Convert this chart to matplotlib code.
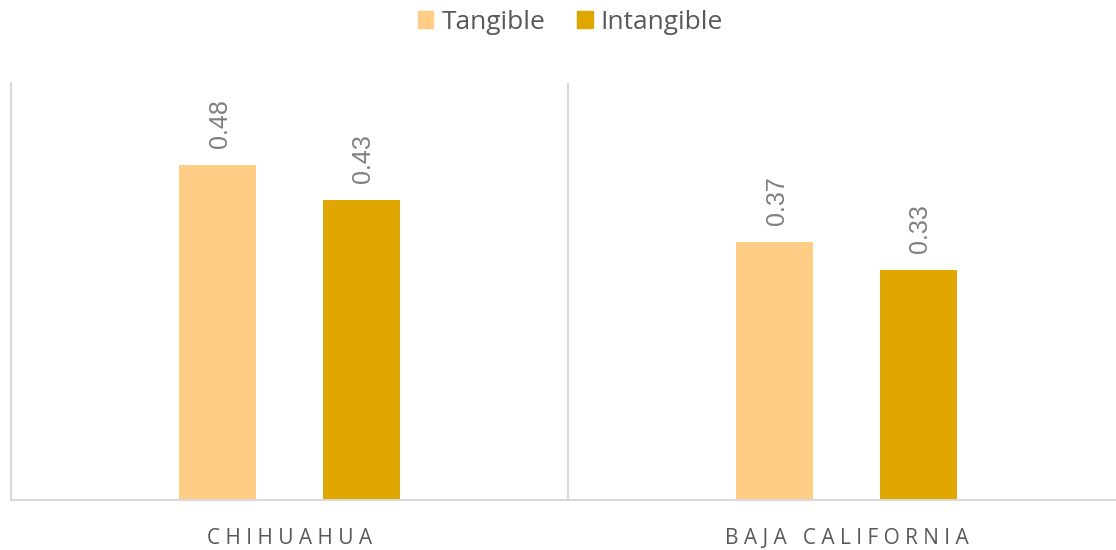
import numpy as np
import matplotlib.pyplot as plt
from matplotlib.patches import Patch

states = ['C H I H U A H U A', 'B A J A   C A L I F O R N I A']
tangible = [0.48, 0.37]
intangible = [0.43, 0.33]

c_tang = '#FFCD85'
c_intang = '#DFA700'
grey_line = '#D9D9D9'
grey_txt = '#595959'

fig = plt.figure(figsize=(11.16, 5.5), dpi=100)
ax = fig.add_axes([11/1116, 50/550, 1114/1116, 417/550])

x = np.array([0.5, 1.5])
w = 0.138
off = 0.129
b1 = ax.bar(x - off, tangible, w, color=c_tang, zorder=2)
b2 = ax.bar(x + off, intangible, w, color=c_intang, zorder=2)

for bars, vals in [(b1, tangible), (b2, intangible)]:
    for r, v in zip(bars, vals):
        ax.annotate(f'{v:.2f}', (r.get_x() + r.get_width()/2, v),
                    xytext=(1.5, 12.5), textcoords='offset points',
                    rotation=90, ha='center', va='bottom',
                    fontsize=18, color='#7F7F7F', family='Liberation Sans')

ax.set_xlim(0, 2)
ax.set_ylim(0, 0.598)
ax.axvline(1, color=grey_line, lw=1.5, zorder=1)

for s in ['top', 'right']:
    ax.spines[s].set_visible(False)
for s in ['left', 'bottom']:
    ax.spines[s].set_color(grey_line)
    ax.spines[s].set_linewidth(1.5)

ax.set_yticks([])
ax.set_xticks(x)
ax.set_xticklabels(states, fontsize=15, color=grey_txt, family='Open Sans')
ax.tick_params(axis='x', length=0, pad=20)

handles = [Patch(color=c_tang, label='Tangible'),
           Patch(color=c_intang, label='Intangible')]
leg = fig.legend(handles=handles, loc='upper center', bbox_to_anchor=(0.511, 1.025),
                 ncol=2, frameon=False, handlelength=0.6,
                 handleheight=0.6, handletextpad=0.3, columnspacing=1.2,
                 prop={'family': 'Open Sans', 'size': 19})
for t in leg.get_texts():
    t.set_color(grey_txt)

fig.savefig('out.png', dpi=100)
